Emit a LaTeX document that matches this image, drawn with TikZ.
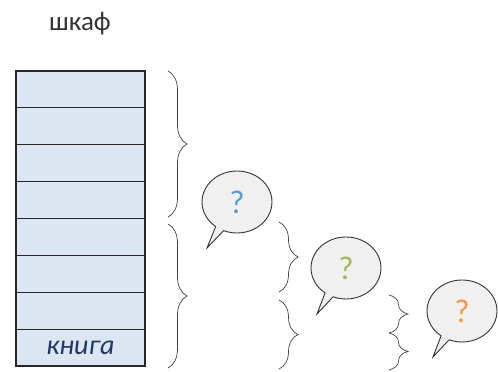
\documentclass[tikz,border=0pt]{standalone}
\usepackage{fontspec}
\setmainfont{Carlito}
\usetikzlibrary{shapes.callouts,decorations.pathreplacing}
\definecolor{shelffill}{HTML}{DCE6F2}
\definecolor{bubblefill}{HTML}{F0F0F0}
\definecolor{qblue}{HTML}{5B9BD5}
\definecolor{qgreen}{HTML}{9BBB59}
\definecolor{qorange}{HTML}{F79646}
\definecolor{bookblue}{HTML}{1F3864}
\tikzset{every node/.style={align=center},
  shelfrow/.style={draw=black!85, line width=1.2pt, fill=shelffill, minimum width=129pt, minimum height=36.875pt, inner sep=0pt},
  bigbrace/.style={decorate, decoration={brace, amplitude=19pt}, draw=black!75, line width=0.7pt},
  thought/.style={ellipse callout, draw=black!80, line width=0.9pt, fill=bubblefill, minimum width=70pt, minimum height=62pt, inner sep=0pt, font=\fontsize{33}{36}\selectfont}}

\begin{document}
\begin{tikzpicture}[x=1pt, y=1pt]
  \useasboundingbox (0,0) rectangle (498,-372);
  \node [anchor=base, text=black!80, font=\fontsize{27}{30}\selectfont] (title) at (80,-30) {шкаф};
  \foreach \i in {1,...,8}
    \node [shelfrow] (r\i) at (80.5,{-71-36.875*(\i-0.5)}) {};
  \node [text=bookblue, font=\fontsize{28}{30}\selectfont\itshape] (book) at (r8) {книга};

  \coordinate (b1s) at (168,-71);  \coordinate (b1e) at (168,-217);
  \coordinate (b2s) at (168,-224); \coordinate (b2e) at (168,-368);
  \coordinate (m1s) at (279,-222); \coordinate (m1e) at (279,-292);
  \coordinate (m2s) at (279,-300); \coordinate (m2e) at (279,-369);
  \coordinate (s1s) at (389,-295); \coordinate (s1e) at (389,-333);
  \coordinate (s2s) at (389,-333); \coordinate (s2e) at (389,-370);
  \draw [bigbrace] (b1s) -- (b1e);
  \draw [bigbrace] (b2s) -- (b2e);
  \draw [bigbrace] (m1s) -- (m1e);
  \draw [bigbrace] (m2s) -- (m2e);
  \draw [bigbrace] (s1s) -- (s1e);
  \draw [bigbrace] (s2s) -- (s2e);

  \node [thought, text=qblue, callout absolute pointer={(207,-248)}] (q1) at (237,-202) {?};
  \node [thought, text=qgreen, callout absolute pointer={(317,-314)}] (q2) at (346,-268) {?};
  \node [thought, text=qorange, callout absolute pointer={(433,-357)}] (q3) at (462,-311) {?};
\end{tikzpicture}
\end{document}
